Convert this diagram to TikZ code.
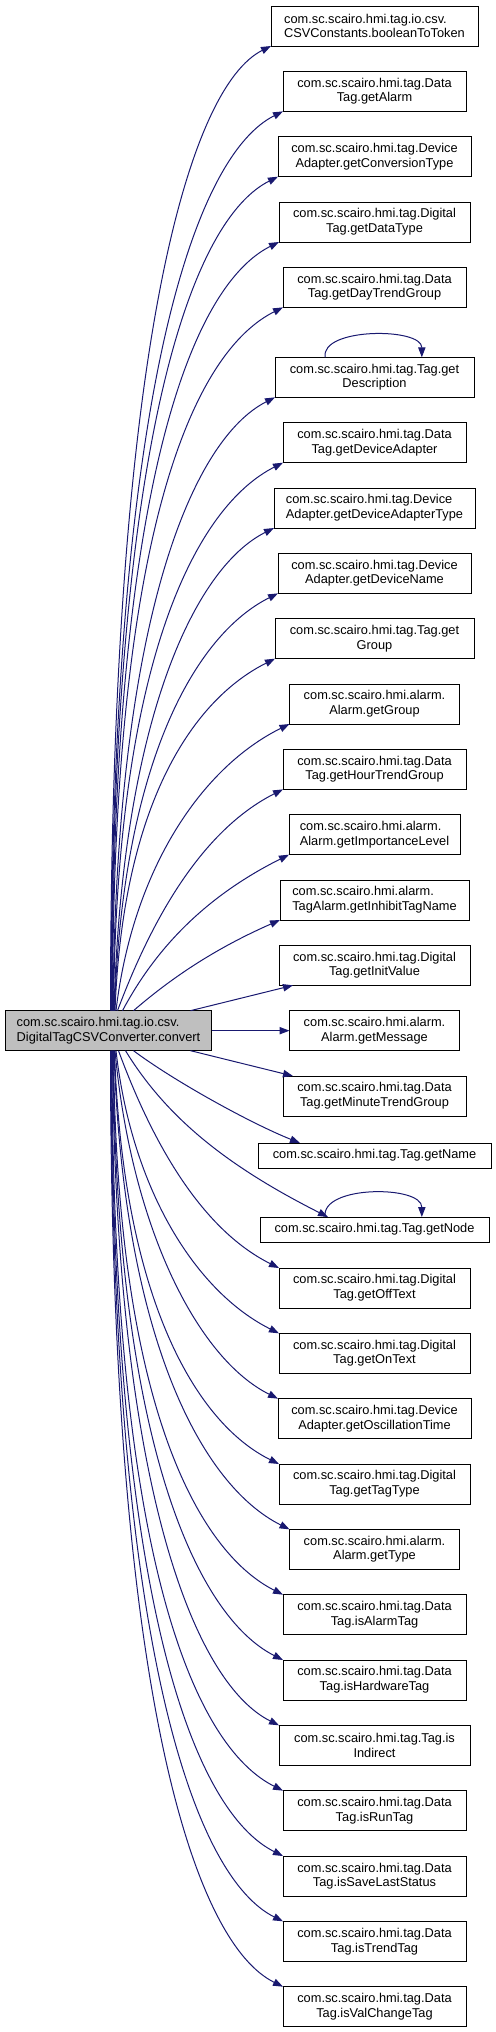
\documentclass[tikz,border=0pt]{standalone}
\usepackage{fontspec}
\setmainfont{Liberation Sans}
\usetikzlibrary{arrows.meta, positioning}
\definecolor{callblue}{HTML}{191970}
\definecolor{focusgrey}{HTML}{BFBFBF}
\tikzstyle{func} = [rectangle, draw=black, line width=0.75pt, fill=white, minimum height=30pt, inner xsep=2pt, inner ysep=1pt, outer sep=0pt, align=center, font=\fontsize{9.6}{11}\selectfont]
\tikzstyle{funcone} = [func, minimum height=18.75pt]
\tikzstyle{focus} = [func, fill=focusgrey]
\tikzstyle{call} = [draw=callblue, line width=0.75pt, -{Triangle[length=7.5pt,width=5.5pt]}]

\begin{document}
\begin{tikzpicture}[x=0.75pt, y=-0.75pt, node distance=19pt]
\useasboundingbox (0,0) rectangle (496,2032);

% called functions, top to bottom
\node (bool) [func, minimum width=155.25pt, align=left] at (374.5,26) {com.sc.scairo.hmi.tag.io.csv.\\CSVConstants.booleanToToken};
\node (alarm) [func, minimum width=137.25pt, below=of bool] {com.sc.scairo.hmi.tag.Data\\Tag.getAlarm};
\node (convtype) [func, minimum width=144.75pt, below=of alarm] {com.sc.scairo.hmi.tag.Device\\Adapter.getConversionType};
\node (datatype) [func, minimum width=143.25pt, below=of convtype] {com.sc.scairo.hmi.tag.Digital\\Tag.getDataType};
\node (daytrend) [func, minimum width=137.25pt, below=of datatype] {com.sc.scairo.hmi.tag.Data\\Tag.getDayTrendGroup};
\node (desc) [func, minimum width=149.25pt, below=37.5pt of daytrend] {com.sc.scairo.hmi.tag.Tag.get\\Description};
\node (devadapter) [func, minimum width=137.25pt, below=of desc] {com.sc.scairo.hmi.tag.Data\\Tag.getDeviceAdapter};
\node (devadtype) [func, minimum width=150.75pt, align=left, below=of devadapter] {com.sc.scairo.hmi.tag.Device\\Adapter.getDeviceAdapterType};
\node (devname) [func, minimum width=144.75pt, below=of devadtype] {com.sc.scairo.hmi.tag.Device\\Adapter.getDeviceName};
\node (taggroup) [func, minimum width=149.25pt, below=of devname] {com.sc.scairo.hmi.tag.Tag.get\\Group};
\node (alarmgroup) [func, minimum width=127.5pt, below=of taggroup] {com.sc.scairo.hmi.alarm.\\Alarm.getGroup};
\node (hourtrend) [func, minimum width=137.25pt, below=of alarmgroup] {com.sc.scairo.hmi.tag.Data\\Tag.getHourTrendGroup};
\node (importance) [func, minimum width=128.25pt, align=left, below=of hourtrend] {com.sc.scairo.hmi.alarm.\\Alarm.getImportanceLevel};
\node (inhibit) [func, minimum width=141.75pt, align=left, below=of importance] {com.sc.scairo.hmi.alarm.\\TagAlarm.getInhibitTagName};
\node (initvalue) [func, minimum width=143.25pt, below=of inhibit] {com.sc.scairo.hmi.tag.Digital\\Tag.getInitValue};
\node (message) [func, minimum width=127.5pt, below=of initvalue] {com.sc.scairo.hmi.alarm.\\Alarm.getMessage};
\node (minutetrend) [func, minimum width=137.25pt, below=of message] {com.sc.scairo.hmi.tag.Data\\Tag.getMinuteTrendGroup};
\node (name) [funcone, minimum width=174.75pt, below=20.25pt of minutetrend] {com.sc.scairo.hmi.tag.Tag.getName};
\node (getnode) [funcone, minimum width=171.75pt, below=36.75pt of name] {com.sc.scairo.hmi.tag.Tag.getNode};
\node (offtext) [func, minimum width=143.25pt, below=19.5pt of getnode] {com.sc.scairo.hmi.tag.Digital\\Tag.getOffText};
\node (ontext) [func, minimum width=143.25pt, below=of offtext] {com.sc.scairo.hmi.tag.Digital\\Tag.getOnText};
\node (oscill) [func, minimum width=144.75pt, below=of ontext] {com.sc.scairo.hmi.tag.Device\\Adapter.getOscillationTime};
\node (tagtype) [func, minimum width=143.25pt, below=of oscill] {com.sc.scairo.hmi.tag.Digital\\Tag.getTagType};
\node (alarmtype) [func, minimum width=127.5pt, below=of tagtype] {com.sc.scairo.hmi.alarm.\\Alarm.getType};
\node (isalarm) [func, minimum width=137.25pt, below=of alarmtype] {com.sc.scairo.hmi.tag.Data\\Tag.isAlarmTag};
\node (ishw) [func, minimum width=137.25pt, below=of isalarm] {com.sc.scairo.hmi.tag.Data\\Tag.isHardwareTag};
\node (isindirect) [func, minimum width=143.25pt, below=of ishw] {com.sc.scairo.hmi.tag.Tag.is\\Indirect};
\node (isrun) [func, minimum width=137.25pt, below=of isindirect] {com.sc.scairo.hmi.tag.Data\\Tag.isRunTag};
\node (issave) [func, minimum width=137.25pt, below=of isrun] {com.sc.scairo.hmi.tag.Data\\Tag.isSaveLastStatus};
\node (istrend) [func, minimum width=137.25pt, below=of issave] {com.sc.scairo.hmi.tag.Data\\Tag.isTrendTag};
\node (isvalchange) [func, minimum width=137.25pt, below=of istrend] {com.sc.scairo.hmi.tag.Data\\Tag.isValChangeTag};

% the caller
\node (convert) [focus, minimum width=154.5pt, align=left, left=58.5pt of message] {com.sc.scairo.hmi.tag.io.csv.\\DigitalTagCSVConverter.convert};

% calls going up
\draw [call] ([xshift=1.5pt]convert.north) .. controls +(0,-675) and +(-80,40) .. (bool.south west);
\draw [call] ([xshift=1.875pt]convert.north) .. controls +(0,-629) and +(-86,43) .. (alarm.south west);
\draw [call] ([xshift=2.25pt]convert.north) .. controls +(0,-583) and +(-84,42) .. (convtype.south west);
\draw [call] ([xshift=2.625pt]convert.north) .. controls +(0,-538) and +(-84,42) .. (datatype.south west);
\draw [call] ([xshift=3pt]convert.north) .. controls +(0,-492) and +(-86,43) .. (daytrend.south west);
\draw [call] ([xshift=3.375pt]convert.north) .. controls +(3,-398) and +(-81,41) .. (desc.south west);
\draw [call] ([xshift=3.75pt]convert.north) .. controls +(3,-356) and +(-85,43) .. (devadapter.south west);
\draw [call] ([xshift=4.125pt]convert.north) .. controls +(8,-289) and +(-80,40) .. (devadtype.south west);
\draw [call] ([xshift=4.5pt]convert.north) .. controls +(8,-250) and +(-82,41) .. (devname.south west);
\draw [call] ([xshift=4.875pt]convert.north) .. controls +(8,-211) and +(-80,40) .. (taggroup.south west);
\draw [call] ([xshift=5.625pt]convert.north) .. controls +(17,-143) and +(-87,43) .. (alarmgroup.south west);
\draw [call] ([xshift=6.75pt]convert.north) .. controls +(33,-88) and +(-83,42) .. (hourtrend.south west);
\draw [call] ([xshift=10.5pt]convert.north) .. controls +(33,-62) and +(-84,42) .. (importance.south west);
\draw [call] ([xshift=18.75pt]convert.north) .. controls +(37,-32) and +(-66,29) .. (inhibit.south west);
\draw [call] ([xshift=61.5pt]convert.north) -- ([xshift=10.5pt]initvalue.south west);
\draw [call] (convert.east) -- (message.west);

% calls going down
\draw [call] ([xshift=61.5pt]convert.south) -- ([xshift=7.5pt]minutetrend.north west);
\draw [call] ([xshift=18.75pt]convert.south) .. controls +(40,30) and +(-50,-20) .. ([xshift=31.5pt]name.north west);
\draw [call] ([xshift=12.75pt]convert.south) .. controls +(41,67) and +(-101,-51) .. ([xshift=51pt]getnode.north west);
\draw [call] ([xshift=7.5pt]convert.south) .. controls +(32,87) and +(-80,-40) .. (offtext.north west);
\draw [call] ([xshift=5.625pt]convert.south) .. controls +(16,141) and +(-82,-41) .. (ontext.north west);
\draw [call] ([xshift=4.875pt]convert.south) .. controls +(16,174) and +(-82,-41) .. (oscill.north west);
\draw [call] ([xshift=4.5pt]convert.south) .. controls +(8,248) and +(-83,-41) .. (tagtype.north west);
\draw [call] ([xshift=4.125pt]convert.south) .. controls +(9,287) and +(-88,-44) .. (alarmtype.north west);
\draw [call] ([xshift=3.75pt]convert.south) .. controls +(3,354) and +(-85,-43) .. (isalarm.north west);
\draw [call] ([xshift=3.375pt]convert.south) .. controls +(3,396) and +(-85,-43) .. (ishw.north west);
\draw [call] ([xshift=3pt]convert.south) .. controls +(3,439) and +(-84,-42) .. (isindirect.north west);
\draw [call] ([xshift=2.625pt]convert.south) .. controls +(0,518) and +(-86,-43) .. (isrun.north west);
\draw [call] ([xshift=2.25pt]convert.south) .. controls +(0,564) and +(-86,-43) .. (issave.north west);
\draw [call] ([xshift=1.875pt]convert.south) .. controls +(0,609) and +(-86,-43) .. (istrend.north west);
\draw [call] ([xshift=1.5pt]convert.south) .. controls +(0,655) and +(-87,-43) .. (isvalchange.north west);

% recursive calls
\draw [call] ([xshift=-37pt]desc.north) .. controls +(-5,-30) and +(0,-30) .. ([xshift=35.5pt]desc.north);
\draw [call] ([xshift=-37pt]getnode.north) .. controls +(-5,-32) and +(0,-32) .. ([xshift=35.5pt]getnode.north);
\end{tikzpicture}
\end{document}
